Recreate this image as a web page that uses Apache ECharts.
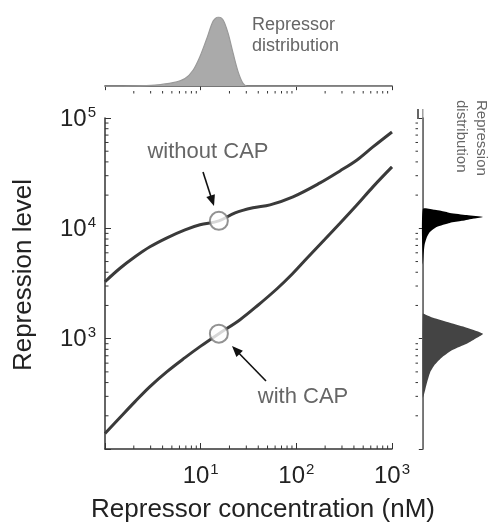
<!DOCTYPE html>
<html><head><meta charset="utf-8">
<script src="https://cdn.jsdelivr.net/npm/echarts@6/dist/echarts.min.js"></script>
<style>html,body{margin:0;padding:0;background:#fff}#c{width:491px;height:527px}</style>
</head><body><div id="c"></div><script>
// ---- data ----
const withoutCAP = [[1,3281],[1.435,4345],[2.06,5520],[2.95,6801],[4.45,8203],[6.86,9687],[9.84,10760],[15.5,11700],[22.9,13810],[35.2,15340],[53.1,16330],[92.3,19290],[177,25810],[286,33140],[431,41660],[632,54660],[1000,74660]];
const withCAP = [[1,138],[1.435,193],[2.06,269],[2.95,368],[4.45,503],[6.86,673],[9.84,847],[15.5,1110],[25.8,1486],[39.7,2009],[62.8,2835],[90.1,3835],[129,5353],[199,7953],[286,11100],[431,16330],[632,23760],[1000,36040]];
const markers = [[15.5,11700],[15.5,1110]];
// repressor distribution: [concentration nM, relative density]
const repressorDist = [[1,0],[2,0.003],[3.33,0.015],[5.14,0.05],[6.86,0.11],[8.32,0.23],[9.84,0.43],[11.6,0.69],[13.5,0.94],[15.2,1.0],[17.1,0.96],[19.3,0.77],[21.8,0.48],[24.6,0.21],[27.7,0.04],[30.5,0],[1000,0]];
// repression distributions: [relative density, repression level]
const peakWithout = [[0,15000],[0.2,14700],[0.3,14400],[0.45,13800],[0.73,13200],[1.0,12700],[0.85,12300],[0.65,11700],[0.45,11200],[0.23,10300],[0.12,9300],[0.07,8380],[0.03,7090],[0.01,5520],[0,4680]];
const peakWith = [[0,1683],[0.05,1648],[0.17,1549],[0.45,1396],[0.73,1259],[1.0,1110],[0.9,1021],[0.73,901],[0.5,795],[0.33,687],[0.2,582],[0.12,492],[0.07,400],[0.04,345],[0,292]];
const xTicks = [1,10,100,1000];
const yTicks = [100,1000,10000,100000];
const xMinor = [2,3,4,5,6,7,8,9,20,30,40,50,60,70,80,90,200,300,400,500,600,700,800,900];
const yMinor = [200,300,400,500,600,700,800,900,2000,3000,4000,5000,6000,7000,8000,9000,20000,30000,40000,50000,60000,70000,80000,90000];

const FONT = 'Liberation Sans, Arial, sans-serif';
const AX = '#333';
const chart = echarts.init(document.getElementById('c'), null, {renderer:'canvas'});

function powLabel(v, hide){
  if (v === hide) return '';
  return '{b|10}{s|' + Math.round(Math.log10(v)) + '}';
}
const rich = {
  b:{fontSize:24, fontFamily:FONT, color:'#222', lineHeight:26, verticalAlign:'bottom'},
  s:{fontSize:15, fontFamily:FONT, color:'#222', lineHeight:26, verticalAlign:'top', padding:[0,0,0,1]}
};
function seg(children,x1,y1,x2,y2,color,w){
  children.push({type:'line', shape:{x1,y1,x2,y2}, style:{stroke:color, lineWidth:w||1}});
}
function arrow(x1,y1,x2,y2){
  const a = Math.atan2(y2-y1,x2-x1), c=Math.cos(a), s=Math.sin(a);
  const L=11, W=4.5, bx=x2-L*c, by=y2-L*s;
  return [
    {type:'line', shape:{x1,y1,x2:bx+c*2,y2:by+s*2}, style:{stroke:'#111',lineWidth:1.6}},
    {type:'polygon', shape:{points:[[x2,y2],[bx-s*W,by+c*W],[bx+s*W,by-c*W]]}, style:{fill:'#111'}}
  ];
}

chart.setOption({
  animation:false,
  backgroundColor:'#fff',
  grid:[
    {left:105, top:118, width:287, height:331},
    {left:105, top:17, width:287, height:74},
    {left:418, top:118, width:65, height:331}
  ],
  xAxis:[
    {gridIndex:0, type:'log', logBase:10, min:1, max:1000, splitLine:{show:false},
     axisLine:{lineStyle:{color:AX,width:1.5}}, axisTick:{inside:true,length:6,lineStyle:{color:AX}},
     axisLabel:{margin:13, formatter:v=>powLabel(v,1), rich}},
    {gridIndex:1, type:'log', logBase:10, min:1, max:1000, splitLine:{show:false},
     axisLine:{lineStyle:{color:AX,width:1.5}}, axisTick:{length:4,lineStyle:{color:AX}}, axisLabel:{show:false}},
    {gridIndex:2, type:'value', min:-0.08, max:1, show:false}
  ],
  yAxis:[
    {gridIndex:0, type:'log', logBase:10, min:100, max:100000, splitLine:{show:false},
     axisLine:{lineStyle:{color:AX,width:1.5}}, axisTick:{inside:true,length:6,lineStyle:{color:AX}},
     axisLabel:{margin:9, formatter:v=>powLabel(v,100), rich}},
    {gridIndex:1, type:'value', min:-0.07, max:1, show:false},
    {gridIndex:2, type:'log', logBase:10, min:100, max:100000, splitLine:{show:false},
     axisLine:{show:true, lineStyle:{color:AX,width:1.5}}, axisTick:{length:4,lineStyle:{color:AX}}, axisLabel:{show:false}}
  ],
  series:[
    {type:'line', xAxisIndex:0, yAxisIndex:0, data:withoutCAP, smooth:0.35, symbol:'none',
     lineStyle:{color:'#3a3a3a', width:3}, z:3},
    {type:'line', xAxisIndex:0, yAxisIndex:0, data:withCAP, smooth:0.35, symbol:'none',
     lineStyle:{color:'#3a3a3a', width:3}, z:3},
    {type:'scatter', xAxisIndex:0, yAxisIndex:0, data:markers, symbol:'emptyCircle', symbolSize:18,
     itemStyle:{color:'#777', borderColor:'#777', borderWidth:2}, z:4},
    {type:'line', xAxisIndex:1, yAxisIndex:1, data:repressorDist, smooth:0.3, symbol:'none',
     lineStyle:{color:'#999', width:1.2}, areaStyle:{color:'#aaaaaa', opacity:1}},
    // minor ticks of the main plot
    {type:'custom', xAxisIndex:0, yAxisIndex:0, data:[[1,100]], silent:true, z:5,
     renderItem:(p,api)=>{
       const ch=[];
       xMinor.forEach(v=>{const q=api.coord([v,100]); seg(ch,q[0],q[1],q[0],q[1]-3.5,AX,1);});
       yMinor.forEach(v=>{const q=api.coord([1,v]); seg(ch,q[0],q[1],q[0]+3.5,q[1],AX,1);});
       return {type:'group', children:ch};
     }},
    // minor ticks of the top panel axis
    {type:'custom', xAxisIndex:1, yAxisIndex:1, data:[[1,-0.07]], silent:true, z:5,
     renderItem:(p,api)=>{
       const ch=[];
       xMinor.forEach(v=>{const q=api.coord([v,-0.07]); seg(ch,q[0],q[1],q[0],q[1]+2.5,AX,1);});
       return {type:'group', children:ch};
     }},
    // right panel: repression distributions
    {type:'custom', xAxisIndex:2, yAxisIndex:2, data:[[0,1000]], silent:true, z:3,
     renderItem:(p,api)=>{
       const ch=[];
       const b0=api.coord([0,100]), b1=api.coord([0,100000]);
       seg(ch,b0[0],b0[1],b1[0],b1[1]-9,'#888',1.2);
       const a0=api.coord([-0.08,100000]);
       seg(ch,a0[0],a0[1]+1,a0[0],a0[1]-9,AX,1.5);
       ch.push({type:'polygon', shape:{points:peakWithout.map(d=>api.coord(d)), smooth:0.2}, style:{fill:'#000'}});
       ch.push({type:'polygon', shape:{points:peakWith.map(d=>api.coord(d)), smooth:0.2}, style:{fill:'#444'}});
       yMinor.forEach(v=>{const q=api.coord([-0.08,v]); seg(ch,q[0],q[1],q[0]-2.5,q[1],AX,1);});
       return {type:'group', children:ch};
     }}
  ],
  graphic:[
    {type:'text', left:252, top:15, style:{text:'Repressor\ndistribution', font:'18px '+FONT, fill:'#666', lineHeight:21}},
    {type:'text', x:471, y:100, rotation:-Math.PI/2, style:{text:'Repression\ndistribution', font:'15px '+FONT, fill:'#666', lineHeight:20, align:'left', verticalAlign:'middle'}},
    {type:'text', x:208, y:152, style:{text:'without CAP', font:'22px '+FONT, fill:'#666', align:'center', verticalAlign:'middle'}},
    {type:'text', x:303, y:397, style:{text:'with CAP', font:'22px '+FONT, fill:'#666', align:'center', verticalAlign:'middle'}},
    {type:'text', x:263, y:510, style:{text:'Repressor concentration (nM)', font:'26px '+FONT, fill:'#222', align:'center', verticalAlign:'middle'}},
    {type:'text', x:24, y:275, rotation:Math.PI/2, style:{text:'Repression level', font:'26px '+FONT, fill:'#222', align:'center', verticalAlign:'middle'}},
    ...arrow(203,172,214,206),
    ...arrow(266,381,232,346)
  ]
});
</script></body></html>
